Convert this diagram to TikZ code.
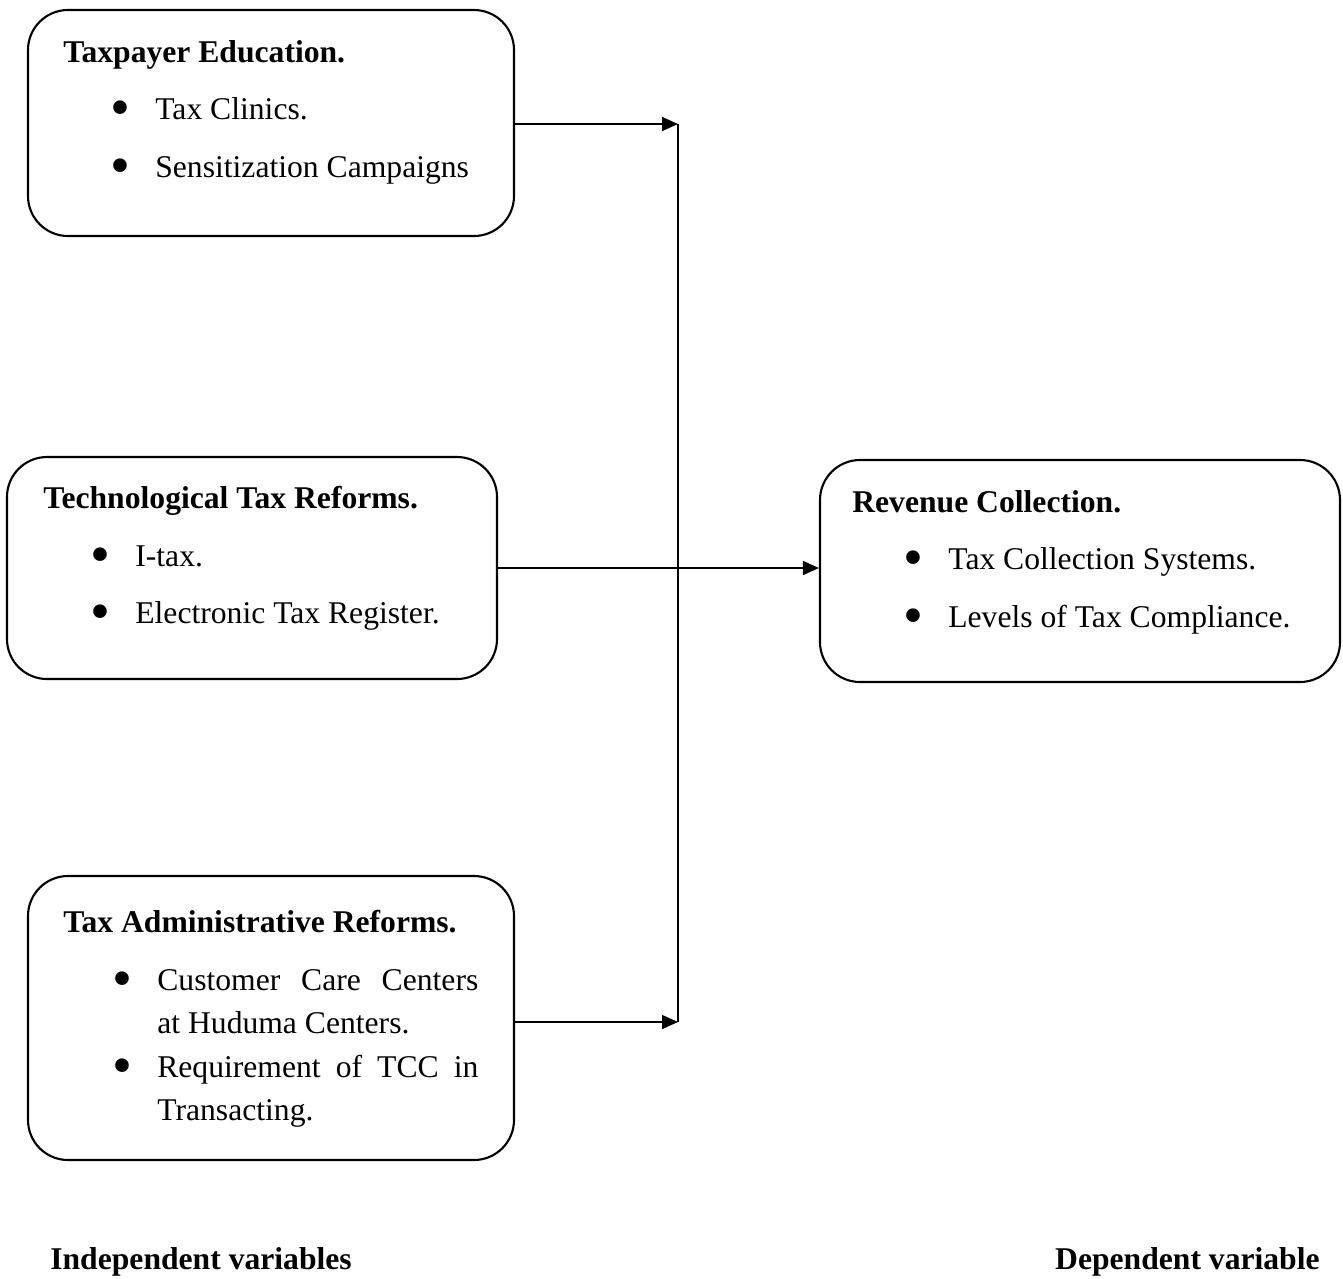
\documentclass[tikz,border=0pt]{standalone}
\usepackage{fontspec}
\setmainfont{Liberation Serif}
\usetikzlibrary{arrows.meta}

\newcommand{\bul}{\llap{\raisebox{-0.15cm}{\scalebox{1.8}{\textbullet}}\hspace{0.5cm}}}

\begin{document}
\begin{tikzpicture}[
  vbox/.style={draw,rectangle,rounded corners=0.8cm,line width=1.2pt,inner sep=0pt},
  head/.style={anchor=base west,inner sep=0pt,font=\fontsize{18}{21.6}\selectfont\bfseries},
  itm/.style={anchor=base west,inner sep=0pt,font=\fontsize{18}{21.6}\selectfont},
  arr/.style={-{Triangle[length=3.2mm,width=2.8mm]},line width=0.9pt}
]
  \useasboundingbox (0,0) rectangle (26.86,-25.56);

  % boxes
  \node[vbox,minimum width=9.72cm,minimum height=4.52cm] (edu) at (5.42,-2.46) {};
  \node[vbox,minimum width=9.8cm,minimum height=4.44cm] (tech) at (5.04,-11.36) {};
  \node[vbox,minimum width=9.72cm,minimum height=5.68cm] (adm) at (5.42,-20.36) {};
  \node[vbox,minimum width=10.4cm,minimum height=4.44cm] (rev) at (21.6,-11.42) {};

  % taxpayer education
  \node[head] (eduh) at (1.26,-1.24) {Taxpayer Education.};
  \node[itm] (edu1) at (3.10,-2.38) {\bul Tax Clinics.};
  \node[itm] (edu2) at (3.10,-3.54) {\bul Sensitization Campaigns};

  % technological reforms
  \node[head] (techh) at (0.86,-10.16) {Technological Tax Reforms.};
  \node[itm] (tech1) at (2.70,-11.32) {\bul I-tax.};
  \node[itm] (tech2) at (2.70,-12.46) {\bul Electronic Tax Register.};

  % administrative reforms
  \node[head] (admh) at (1.26,-18.64) {Tax Administrative Reforms.};
  \node[itm] (adm1) at (3.14,-19.80) {\bul\makebox[6.42cm][s]{Customer\hfill Care\hfill Centers}};
  \node[itm] (adm1b) at (3.14,-20.66) {at Huduma Centers.};
  \node[itm] (adm2) at (3.14,-21.54) {\bul\makebox[6.42cm][s]{Requirement\hfill of\hfill TCC\hfill in}};
  \node[itm] (adm2b) at (3.14,-22.40) {Transacting.};

  % revenue collection
  \node[head] (revh) at (17.04,-10.24) {Revenue Collection.};
  \node[itm] (rev1) at (18.96,-11.38) {\bul Tax Collection Systems.};
  \node[itm] (rev2) at (18.96,-12.54) {\bul Levels of Tax Compliance.};

  % labels
  \node[head] (indep) at (1.0,-25.38) {Independent variables};
  \node[head,anchor=base east] (dep) at (26.4,-25.38) {Dependent variable};

  % connectors
  \coordinate (top) at (13.56,-2.48);
  \coordinate (bot) at (13.56,-20.44);
  \draw[line width=0.9pt] (top) -- (bot);
  \draw[arr] (edu.east |- top) -- (top);
  \draw[arr] (adm.east |- bot) -- (bot);
  \draw[arr] (tech.east) -- (tech.east -| rev.west);

\end{tikzpicture}
\end{document}
